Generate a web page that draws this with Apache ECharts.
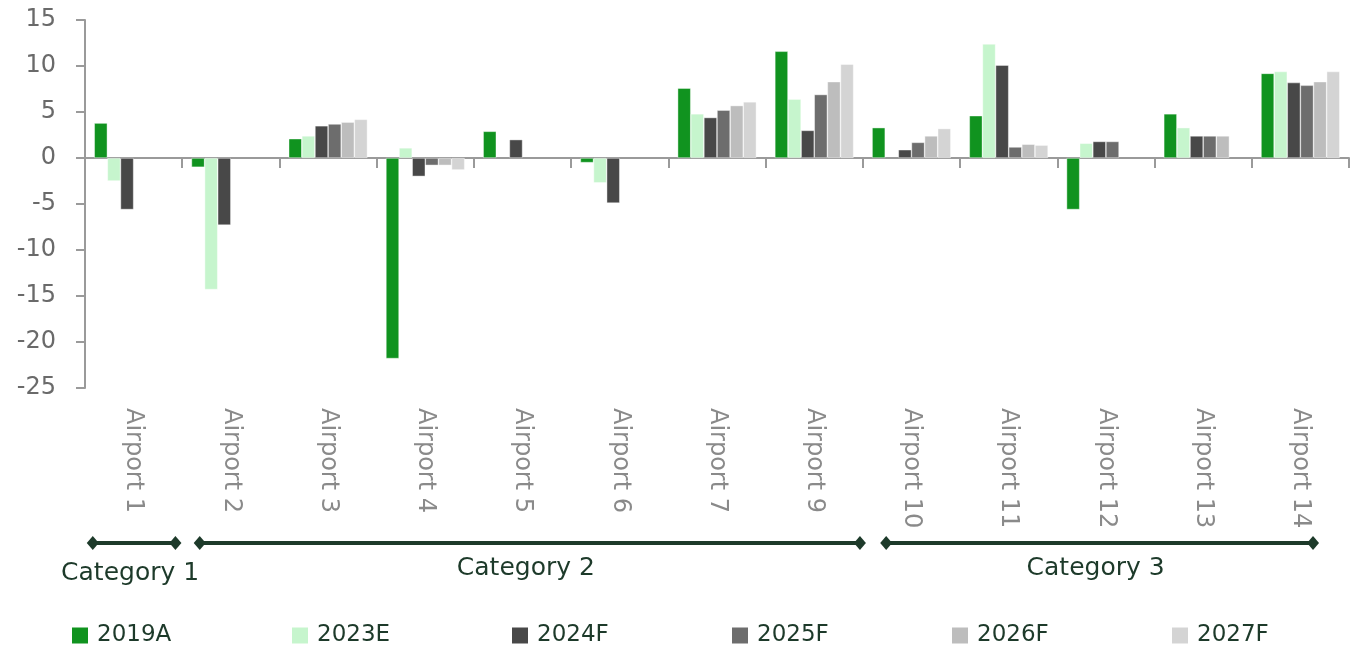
<!DOCTYPE html>
<html>
<head>
<meta charset="utf-8">
<script src="https://cdn.jsdelivr.net/npm/echarts@6/dist/echarts.min.js"></script>
<style>
  html, body { margin: 0; padding: 0; background: #fff; }
  #main { width: 1357px; height: 648px; }
</style>
</head>
<body>
<div id="main"></div>
<script>
// airports (no Airport 8 in the source)
var airports = ['Airport 1', 'Airport 2', 'Airport 3', 'Airport 4', 'Airport 5', 'Airport 6', 'Airport 7',
    'Airport 9', 'Airport 10', 'Airport 11', 'Airport 12', 'Airport 13', 'Airport 14'];
var seriesNames = ['2019A', '2023E', '2024F', '2025F', '2026F', '2027F'];

var v2019A = [3.8, -1.0, 2.1, -21.8, 2.9, -0.5, 7.6, 11.6, 3.3, 4.6, -5.6, 4.8, 9.2];
var v2023E = [-2.5, -14.3, 2.4, 1.1, null, -2.7, 4.8, 6.4, null, 12.4, 1.6, 3.3, 9.4];
var v2024F = [-5.6, -7.3, 3.5, -2.0, 2.0, -4.9, 4.4, 3.0, 0.9, 10.1, 1.8, 2.4, 8.2];
var v2025F = [null, null, 3.7, -0.8, null, null, 5.2, 6.9, 1.7, 1.2, 1.8, 2.4, 7.9];
var v2026F = [null, null, 3.9, -0.8, null, null, 5.7, 8.3, 2.4, 1.5, null, 2.4, 8.3];
var v2027F = [null, null, 4.2, -1.3, null, null, 6.1, 10.2, 3.2, 1.4, null, null, 9.4];

var yTicks = { min: -25, max: 15, step: 5 };

// category groups under the axis labels (first / last airport index)
var groupNames = ['Category 1', 'Category 2', 'Category 3'];
var groupFirst = [0, 1, 8];
var groupLast = [0, 7, 12];

var values = [v2019A, v2023E, v2024F, v2025F, v2026F, v2027F];
var colors = ['#10931f', '#c6f5cd', '#484848', '#6d6d6d', '#bdbdbd', '#d4d4d4'];
var dark = '#1d3a2a';
var axisGrey = '#9a9a9a';
var font = 'DejaVu Sans';

var chart = echarts.init(document.getElementById('main'));

var series = [];
for (var i = 0; i < seriesNames.length; i++) {
    series.push({
        name: seriesNames[i],
        type: 'bar',
        xAxisIndex: 0,
        data: values[i],
        barGap: '0%',
        barCategoryGap: '19%',
        itemStyle: { color: colors[i], borderColor: 'rgba(255,255,255,0.7)', borderWidth: 0.6 }
    });
}

// one legend per item so they sit on an even 220px pitch
var legends = [];
for (var j = 0; j < seriesNames.length; j++) {
    legends.push({
        data: [seriesNames[j]],
        left: 72 + j * 220,
        top: 624,
        padding: 0,
        itemWidth: 16,
        itemHeight: 16,
        itemGap: 0,
        icon: 'rect',
        itemStyle: { borderWidth: 0 },
        textStyle: { color: dark, fontSize: 23, fontFamily: font, padding: [0, 0, 0, 4] }
    });
}

var option = {
    animation: false,
    textStyle: { fontFamily: font },
    color: colors,
    grid: { left: 85, right: 8, top: 20, bottom: 260, containLabel: false },
    legend: legends,
    xAxis: [{
        type: 'category',
        data: airports,
        axisLine: { onZero: true, lineStyle: { color: axisGrey, width: 2 } },
        axisTick: { show: true, interval: 0, length: 10, lineStyle: { color: axisGrey, width: 2 } },
        axisLabel: { show: false }
    }, {
        type: 'category',
        data: airports,
        position: 'bottom',
        axisLine: { show: false },
        axisTick: { show: false },
        axisLabel: { interval: 0, rotate: -90, margin: 20, color: '#8a8a8a', fontSize: 24, fontFamily: font }
    }],
    yAxis: {
        type: 'value',
        min: yTicks.min,
        max: yTicks.max,
        interval: yTicks.step,
        splitLine: { show: false },
        axisLine: { show: true, lineStyle: { color: axisGrey, width: 2 } },
        axisTick: { show: true, length: 9, lineStyle: { color: axisGrey, width: 2 } },
        axisLabel: { color: '#6a6a6a', fontSize: 24, margin: 29, fontFamily: font }
    },
    series: series
};
chart.setOption(option);

// brackets + group names drawn from the axis scale
var c0 = chart.convertToPixel({ xAxisIndex: 0 }, 0);
var c1 = chart.convertToPixel({ xAxisIndex: 0 }, 1);
var band = c1 - c0;
var edge0 = c0 - band / 2;
var insetL = [0.08, 0.18, 0.24];
var insetR = [0.07, 0.03, 0.37];
var lineY = 543;
var elements = [];
function diamond(x, y) {
    return {
        type: 'polygon',
        shape: { points: [[x, y - 7], [x + 6, y], [x, y + 7], [x - 6, y]] },
        style: { fill: dark }
    };
}
for (var g = 0; g < groupNames.length; g++) {
    var x1 = edge0 + (groupFirst[g] + insetL[g]) * band;
    var x2 = edge0 + (groupLast[g] + 1 - insetR[g]) * band;
    elements.push({
        type: 'line',
        shape: { x1: x1, y1: lineY, x2: x2, y2: lineY },
        style: { stroke: dark, lineWidth: 4 }
    });
    elements.push(diamond(x1, lineY));
    elements.push(diamond(x2, lineY));
    elements.push({
        type: 'text',
        x: (x1 + x2) / 2 - 4,
        y: g == 0 ? 573 : 568,
        style: {
            text: groupNames[g],
            fill: dark,
            font: '25px "' + font + '"',
            textAlign: 'center',
            textVerticalAlign: 'middle'
        }
    });
}
chart.setOption({ graphic: { elements: elements } });
</script>
</body>
</html>
